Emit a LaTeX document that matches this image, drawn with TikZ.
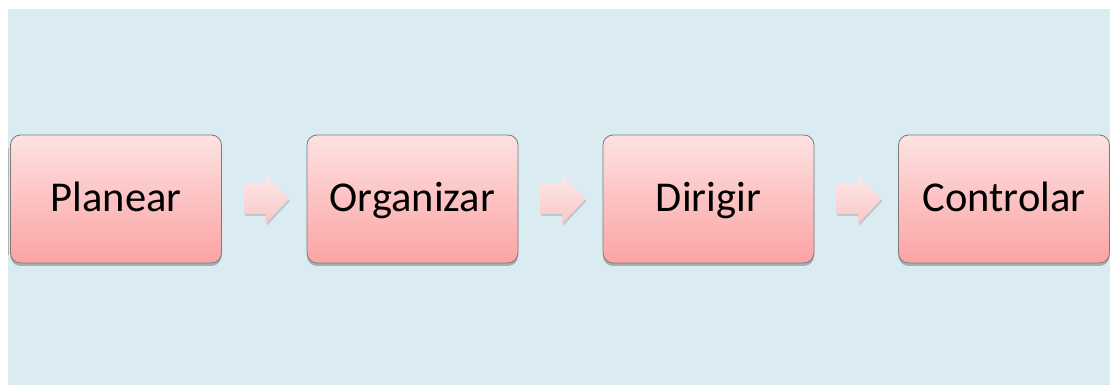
\documentclass[tikz,border=0pt]{standalone}
\usepackage{fontspec}
\setmainfont{Carlito}
\usetikzlibrary{calc,shadows}
\definecolor{bgblue}{HTML}{DAECF2}
\definecolor{boxtop}{HTML}{FDE2E2}
\definecolor{boxbot}{HTML}{FCA3A3}
\definecolor{boxline}{HTML}{7A7A7A}
\definecolor{arrtop}{HTML}{FDE8E8}
\definecolor{arrbot}{HTML}{F9C6C6}
\tikzset{
  stepbox/.style={rectangle, rounded corners=10pt, draw=boxline, line width=0.8pt,
    top color=boxtop, bottom color=boxbot, minimum width=211pt, minimum height=128pt,
    text height=30pt, text depth=4pt,
    font=\fontsize{42.5}{50}\selectfont, text=black,
    drop shadow={shadow xshift=0pt, shadow yshift=-3pt, opacity=0.25, fill=black}},
  blockarrow/.style={top color=arrtop, bottom color=arrbot, draw=none,
    drop shadow={shadow xshift=1pt, shadow yshift=-2pt, opacity=0.15, fill=black}}
}
\begin{document}
\begin{tikzpicture}[x=1pt,y=1pt]
  \useasboundingbox (0,0) rectangle (1110,385);
  % background panel
  \fill[bgblue] (8,0) rectangle (1110,376);
  \draw[gray!60, line width=0.8pt] (8.6,130) -- (8.6,237);
  % process steps
  \node[stepbox] (p) at (116,186) {Planear};
  \node[stepbox] (o) at (412.5,186) {Organizar};
  \node[stepbox] (d) at (708.5,186) {Dirigir};
  \node[stepbox] (c) at (1004,186) {Controlar};
  % block arrows between steps
  \foreach \a/\b in {p/o, o/d, d/c}{
    \path[blockarrow]
      ($(\a.east)+(22,15)$) -- ($(\a.east)+(44,15)$) -- ($(\a.east)+(44,24.5)$)
      -- ($(\a.east)+(67,0)$) -- ($(\a.east)+(44,-24.5)$) -- ($(\a.east)+(44,-15)$)
      -- ($(\a.east)+(22,-15)$) -- cycle;
  }
\end{tikzpicture}
\end{document}
